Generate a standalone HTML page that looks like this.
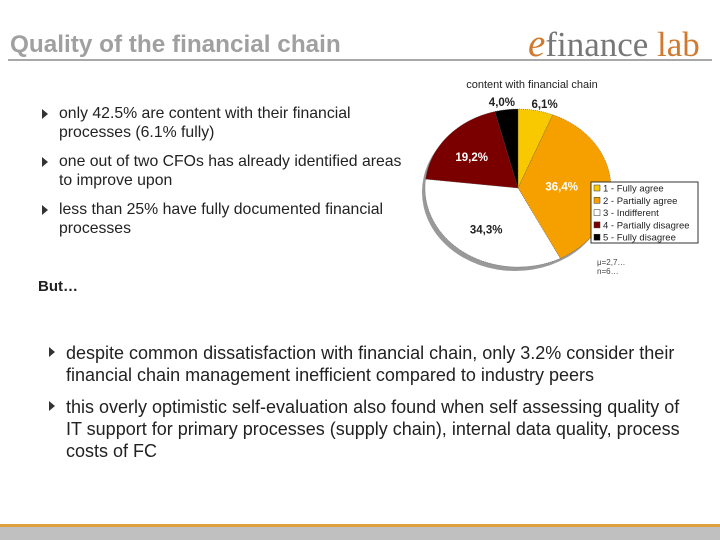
<!DOCTYPE html>
<html><head><meta charset="utf-8">
<style>
body{margin:0;width:720px;height:540px;position:relative;background:#fff;font-family:"Liberation Sans",sans-serif;overflow:hidden}
.abs{position:absolute}
.bul{position:absolute;font-size:15px;color:#222;line-height:20px;white-space:nowrap}
.bul:before{content:"";position:absolute;left:-17px;top:5px;border-left:6px solid #333;border-top:5px solid transparent;border-bottom:5px solid transparent}
.bul.s{font-size:15.8px;line-height:19px}
.bul.b{font-size:18px;line-height:22px}
</style></head><body>
<div class="abs" style="left:10px;top:31px;font-size:24.3px;font-weight:bold;color:#a0a0a0">Quality of the financial chain</div>
<div class="abs" style="left:528px;top:21px;font-family:'Liberation Serif',serif;font-size:35px;color:#777"><span style="color:#d07a30;font-style:italic;font-size:39px">e</span>finance <span style="color:#d07a30">lab</span></div>
<div class="abs" style="left:8px;top:59px;width:704px;height:2px;background:#a8a8a8"></div>

<div class="bul s" style="left:59px;top:104px">only 42.5% are content with their financial<br>processes (6.1% fully)</div>
<div class="bul s" style="left:59px;top:152px">one out of two CFOs has already identified areas<br>to improve upon</div>
<div class="bul s" style="left:59px;top:200px">less than 25% have fully documented financial<br>processes</div>
<div class="abs" style="left:38px;top:278px;font-size:15px;font-weight:bold;color:#222">But…</div>
<div class="bul b" style="left:66px;top:342px">despite common dissatisfaction with financial chain, only 3.2% consider their<br>financial chain management inefficient compared to industry peers</div>
<div class="bul b" style="left:66px;top:396px">this overly optimistic self-evaluation also found when self assessing quality of<br>IT support for primary processes (supply chain), internal data quality, process<br>costs of FC</div>

<svg class="abs" style="left:0;top:0" width="720" height="540">
<text x="532" y="88" text-anchor="middle" font-size="11" fill="#222">content with financial chain</text>
<g id="pie"></g>
<g>
<rect x="591" y="182" width="107" height="61" fill="#fff" stroke="#333" stroke-width="1"/>
<g id="leg"></g>
</g>
<text x="597" y="265" font-size="8" fill="#444">μ=2,7…</text>
<text x="597" y="274" font-size="8" fill="#444">n=6…</text>
<rect x="0" y="524" width="720" height="3" fill="#dfa040"/>
<rect x="0" y="527" width="720" height="13" fill="#c0c0c0"/>
</svg>
<script>
const categories=["1 - Fully agree","2 - Partially agree","3 - Indifferent","4 - Partially disagree","5 - Fully disagree"];
const values=[6.1,36.4,34.3,19.2,4.0];
const labels=["6,1%","36,4%","34,3%","19,2%","4,0%"];
const colors=["#f8c800","#f6a000","#ffffff","#7a0000","#000000"];
const labelColors=["#222","#fff","#222","#fff","#222"];
const NS="http://www.w3.org/2000/svg";
const cx=518,cy=188,rx=93,ry=79;
const pie=document.getElementById('pie');
const sh=document.createElementNS(NS,'ellipse');
sh.setAttribute('cx',cx-3);sh.setAttribute('cy',cy+4);sh.setAttribute('rx',rx);sh.setAttribute('ry',ry);sh.setAttribute('fill','#999');


pie.appendChild(sh);
const total=values.reduce((a,b)=>a+b,0);
let a=0;
function pt(ang,kx,ky){return [cx+kx*rx*Math.sin(ang),cy-ky*ry*Math.cos(ang)];}
const lpos=[[1.5,1.08],[0.47,0.47],[0.6,0.64],[0.66,0.6],[1.38,1.1]];
values.forEach((v,i)=>{
  const a0=a, a1=a+v/total*2*Math.PI; a=a1;
  const p0=pt(a0,1,1),p1=pt(a1,1,1);
  const large=(a1-a0)>Math.PI?1:0;
  const p=document.createElementNS(NS,'path');
  p.setAttribute('d',`M${cx},${cy}L${p0[0]},${p0[1]}A${rx},${ry} 0 ${large} 1 ${p1[0]},${p1[1]}Z`);
  p.setAttribute('fill',colors[i]);p.setAttribute('stroke','#555');p.setAttribute('stroke-width','0.5');p.setAttribute('stroke-dasharray','1,1');
  
  
  pie.appendChild(p);
  const m=(a0+a1)/2, lp=pt(m,lpos[i][0],lpos[i][1]);
  const t=document.createElementNS(NS,'text');
  t.setAttribute('x',lp[0]);t.setAttribute('y',lp[1]+4);t.setAttribute('text-anchor','middle');
  t.setAttribute('font-size','11.5');t.setAttribute('font-weight','bold');t.setAttribute('fill',labelColors[i]);
  t.textContent=labels[i];
  
  
  pie.appendChild(t);
});
const leg=document.getElementById('leg');
categories.forEach((c,i)=>{
  const y=188+i*12.3;
  const r=document.createElementNS(NS,'rect');
  r.setAttribute('x',594);r.setAttribute('y',y-3);r.setAttribute('width',6);r.setAttribute('height',6);
  r.setAttribute('fill',colors[i]);r.setAttribute('stroke','#333');r.setAttribute('stroke-width','0.5');
  
  
  leg.appendChild(r);
  const t=document.createElementNS(NS,'text');
  t.setAttribute('x',603);t.setAttribute('y',y+3.5);t.setAttribute('font-size','9.5');t.setAttribute('fill','#222');
  t.textContent=c;
  
  
  leg.appendChild(t);
});
</script>
</body></html>
